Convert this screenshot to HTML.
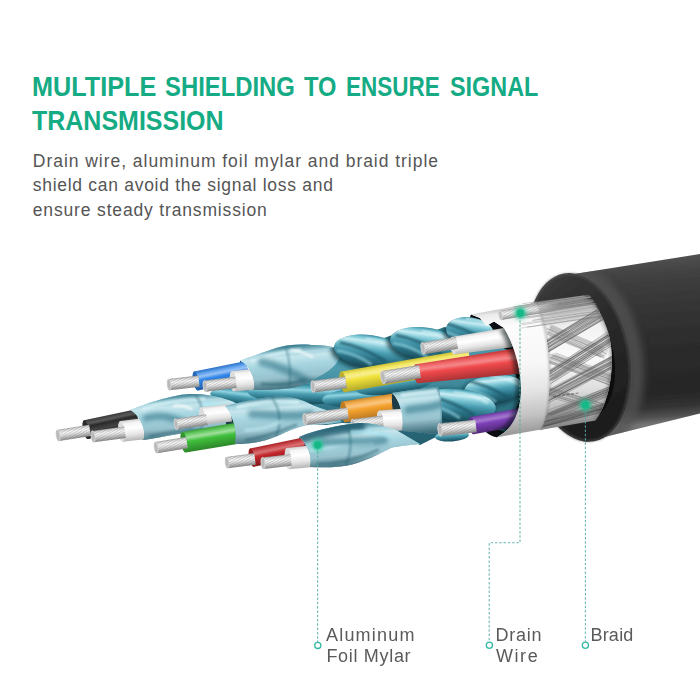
<!DOCTYPE html>
<html><head><meta charset="utf-8"><title>Multiple shielding</title>
<style>
html,body{margin:0;padding:0;background:#fff}
#page{position:relative;width:700px;height:700px;overflow:hidden;background:#fff;font-family:"Liberation Sans", sans-serif}
.tx{position:absolute;white-space:pre;line-height:1;transform-origin:0 0}
.t{font-weight:bold;color:#15ab84}
.b{color:#555}
.l{color:#5a5a5a}
svg{position:absolute;left:0;top:0}
</style></head><body>
<div id="page">
<svg width="700" height="700" viewBox="0 0 700 700">
<defs>
<pattern id="strand" width="2.2" height="40" patternUnits="userSpaceOnUse" patternTransform="rotate(68)"><rect width="0.9" height="40" fill="#666"/></pattern>
<filter id="soft" x="-5%" y="-5%" width="110%" height="110%"><feGaussianBlur stdDeviation="0.45"/></filter>
<filter id="b1" filterUnits="userSpaceOnUse" x="0" y="200" width="700" height="500"><feGaussianBlur stdDeviation="1"/></filter>
<filter id="b2" filterUnits="userSpaceOnUse" x="0" y="200" width="700" height="500"><feGaussianBlur stdDeviation="2"/></filter>
<filter id="b3" filterUnits="userSpaceOnUse" x="0" y="200" width="700" height="500"><feGaussianBlur stdDeviation="3.5"/></filter>
<linearGradient id="g1" gradientUnits="userSpaceOnUse" x1="640" y1="261" x2="652" y2="424"><stop offset="0" stop-color="#505050"/><stop offset="0.05" stop-color="#464646"/><stop offset="0.15" stop-color="#3c3c3c"/><stop offset="0.4" stop-color="#303030"/><stop offset="0.65" stop-color="#292929"/><stop offset="0.82" stop-color="#272727"/><stop offset="0.9" stop-color="#323232"/><stop offset="0.96" stop-color="#515151"/><stop offset="1" stop-color="#757575"/></linearGradient>
<clipPath id="cbody"><path d="M568,275 L700,254 L700,413.5 L586,441.5 L560,420 L560,300 Z"/></clipPath>
<linearGradient id="g2" gradientUnits="userSpaceOnUse" x1="545" y1="285" x2="610" y2="430"><stop offset="0" stop-color="#3a3a3a"/><stop offset="0.18" stop-color="#313131"/><stop offset="0.5" stop-color="#282828"/><stop offset="1" stop-color="#1b1b1b"/></linearGradient>
<linearGradient id="g3" gradientUnits="userSpaceOnUse" x1="560" y1="298" x2="572" y2="424"><stop offset="0" stop-color="#9f9f9f"/><stop offset="0.08" stop-color="#cfcfcf"/><stop offset="0.25" stop-color="#f3f3f3"/><stop offset="0.5" stop-color="#fbfbfb"/><stop offset="0.75" stop-color="#dcdcdc"/><stop offset="0.9" stop-color="#b3b3b3"/><stop offset="1" stop-color="#8a8a8a"/></linearGradient>
<clipPath id="cbraid"><path d="M531,303 L584,295.6 C601,306 612.5,335 612,360 C611.5,388 604.5,409 595.5,420.4 L540,430 C520,400 520,330 531,303 Z"/></clipPath>
<linearGradient id="g4" gradientUnits="userSpaceOnUse" x1="300" y1="330" x2="304" y2="465"><stop offset="0" stop-color="#3f8c9e"/><stop offset="0.3" stop-color="#4d9aac"/><stop offset="0.6" stop-color="#2f7486"/><stop offset="1" stop-color="#1f5563"/></linearGradient>
<clipPath id="c5"><path d="M254,388 L262,358 L280,352 L310,350 L333,347.5 L345,348 L370,343 L391,335.5 L400,339 L420,336 L444.5,327 L455,330 L470,326 L482,329 L490,342 L512,352 L520,400 L505,432 L470,420 L452,428 L436,437 L420,445 L396,432 L360,424 L342,423 L326,425 L310,424 L300,402 L270,397 L254,398 Z"/></clipPath>
<clipPath id="cteal"><path d="M254,388 L262,358 L280,352 L310,350 L333,347.5 L345,348 L370,343 L391,335.5 L400,339 L420,336 L444.5,327 L455,330 L470,326 L482,329 L490,342 L512,352 L520,400 L505,432 L470,420 L452,428 L436,437 L420,445 L396,432 L360,424 L342,423 L326,425 L310,424 L300,402 L270,397 L254,398 Z"/><ellipse cx="369.7" cy="351.5" rx="36" ry="16.5" transform="rotate(8 369.7 351.5)"/><ellipse cx="425.7" cy="344.1" rx="36" ry="16.5" transform="rotate(8 425.7 344.1)"/><ellipse cx="469.9" cy="331.3" rx="24" ry="14" transform="rotate(8 469.9 331.3)"/><ellipse cx="494" cy="389" rx="30" ry="14" transform="rotate(-6 494 389)"/><ellipse cx="458" cy="405" rx="38" ry="16" transform="rotate(6 458 405)"/></clipPath>
<linearGradient id="g6" x1="0" y1="0" x2="0" y2="1"><stop offset="0" stop-color="#2f7f93"/><stop offset="0.15" stop-color="#56aabd"/><stop offset="0.3" stop-color="#8fd3e0"/><stop offset="0.5" stop-color="#4a9db1"/><stop offset="0.8" stop-color="#256a7d"/><stop offset="1" stop-color="#184a58"/></linearGradient>
<linearGradient id="g7" x1="0" y1="0" x2="0" y2="1"><stop offset="0" stop-color="#2f7f93"/><stop offset="0.15" stop-color="#56aabd"/><stop offset="0.3" stop-color="#8fd3e0"/><stop offset="0.5" stop-color="#4a9db1"/><stop offset="0.8" stop-color="#256a7d"/><stop offset="1" stop-color="#184a58"/></linearGradient>
<linearGradient id="g8" x1="0" y1="0" x2="0" y2="1"><stop offset="0" stop-color="#2f7f93"/><stop offset="0.15" stop-color="#56aabd"/><stop offset="0.3" stop-color="#8fd3e0"/><stop offset="0.5" stop-color="#4a9db1"/><stop offset="0.8" stop-color="#256a7d"/><stop offset="1" stop-color="#184a58"/></linearGradient>
<linearGradient id="g9" x1="0" y1="0" x2="0" y2="1"><stop offset="0" stop-color="#2f7f93"/><stop offset="0.15" stop-color="#56aabd"/><stop offset="0.3" stop-color="#8fd3e0"/><stop offset="0.5" stop-color="#4a9db1"/><stop offset="0.8" stop-color="#256a7d"/><stop offset="1" stop-color="#184a58"/></linearGradient>
<linearGradient id="g10" gradientUnits="userSpaceOnUse" x1="220.1" y1="366.3" x2="223.9" y2="385.2"><stop offset="0" stop-color="#2871c6"/><stop offset="0.18" stop-color="#63a4ef"/><stop offset="0.32" stop-color="#97c2f4"/><stop offset="0.5" stop-color="#3086ea"/><stop offset="0.8" stop-color="#276dbf"/><stop offset="1" stop-color="#215da3"/></linearGradient>
<linearGradient id="g11" gradientUnits="userSpaceOnUse" x1="183.4" y1="377.3" x2="184.6" y2="388.5"><stop offset="0" stop-color="#a5a5a5"/><stop offset="0.12" stop-color="#dadada"/><stop offset="0.35" stop-color="#fbfbfb"/><stop offset="0.55" stop-color="#e4e4e4"/><stop offset="0.8" stop-color="#b4b4b4"/><stop offset="1" stop-color="#8a8a8a"/></linearGradient>
<linearGradient id="g12" gradientUnits="userSpaceOnUse" x1="244.5" y1="369.7" x2="246.5" y2="390.3"><stop offset="0" stop-color="#cfcfcf"/><stop offset="0.15" stop-color="#f4f4f4"/><stop offset="0.4" stop-color="#ffffff"/><stop offset="0.7" stop-color="#e6e6e6"/><stop offset="1" stop-color="#b5b5b5"/></linearGradient>
<linearGradient id="g13" gradientUnits="userSpaceOnUse" x1="219.8" y1="378.7" x2="221.2" y2="389.8"><stop offset="0" stop-color="#a5a5a5"/><stop offset="0.12" stop-color="#dadada"/><stop offset="0.35" stop-color="#fbfbfb"/><stop offset="0.55" stop-color="#e4e4e4"/><stop offset="0.8" stop-color="#b4b4b4"/><stop offset="1" stop-color="#8a8a8a"/></linearGradient>
<linearGradient id="g14" gradientUnits="userSpaceOnUse" x1="280" y1="346" x2="284" y2="391"><stop offset="0" stop-color="#35879c"/><stop offset="0.1" stop-color="#5ab6c9"/><stop offset="0.26" stop-color="#9cdce8"/><stop offset="0.42" stop-color="#62bdd0"/><stop offset="0.62" stop-color="#3f96ac"/><stop offset="0.84" stop-color="#2a7085"/><stop offset="1" stop-color="#1c5363"/></linearGradient>
<clipPath id="c15"><path d="M240,360.5 C262,353 272,349 280,347 C292,344.5 300,344 312,345 C322,345 330,346 336,348 C342,352 340,360 334,366 C328,372 322,375 318,377 C312,381 306,384 300,386 C292,389 270,390 253.5,390 C257,382 250,365 240,360.5 Z"/></clipPath>
<linearGradient id="g16" gradientUnits="userSpaceOnUse" x1="242" y1="0" x2="274" y2="-8"><stop offset="0" stop-color="#d3e6eb" stop-opacity="0.62"/><stop offset="0.4" stop-color="#bfe0e8" stop-opacity="0.3"/><stop offset="1" stop-color="#a8d6e1" stop-opacity="0"/></linearGradient>
<linearGradient id="g17" gradientUnits="userSpaceOnUse" x1="280" y1="346" x2="284" y2="391"><stop offset="0" stop-color="#1f6a7f" stop-opacity="0.85"/><stop offset="0.17" stop-color="#1f6a7f" stop-opacity="0"/><stop offset="0.25" stop-color="#fff" stop-opacity="0.12"/><stop offset="0.45" stop-color="#fff" stop-opacity="0"/><stop offset="0.7" stop-color="#134a5a" stop-opacity="0"/><stop offset="1" stop-color="#134a5a" stop-opacity="0.7"/></linearGradient>
<linearGradient id="g18" x1="0" y1="0" x2="0" y2="1"><stop offset="0" stop-color="#3a8ba0"/><stop offset="0.08" stop-color="#6fc0d0"/><stop offset="0.2" stop-color="#c8edf3"/><stop offset="0.34" stop-color="#7fc8d6"/><stop offset="0.5" stop-color="#4a9db1"/><stop offset="0.72" stop-color="#2b7286"/><stop offset="1" stop-color="#174957"/></linearGradient>
<clipPath id="c19"><ellipse cx="369.7" cy="351.5" rx="36" ry="16.5" transform="rotate(8 369.7 351.5)"/></clipPath>
<linearGradient id="g20" x1="0" y1="0" x2="0" y2="1"><stop offset="0" stop-color="#3a8ba0"/><stop offset="0.08" stop-color="#6fc0d0"/><stop offset="0.2" stop-color="#c8edf3"/><stop offset="0.34" stop-color="#7fc8d6"/><stop offset="0.5" stop-color="#4a9db1"/><stop offset="0.72" stop-color="#2b7286"/><stop offset="1" stop-color="#174957"/></linearGradient>
<clipPath id="c21"><ellipse cx="425.7" cy="344.1" rx="36" ry="16.5" transform="rotate(8 425.7 344.1)"/></clipPath>
<linearGradient id="g22" x1="0" y1="0" x2="0" y2="1"><stop offset="0" stop-color="#3a8ba0"/><stop offset="0.08" stop-color="#6fc0d0"/><stop offset="0.2" stop-color="#c8edf3"/><stop offset="0.34" stop-color="#7fc8d6"/><stop offset="0.5" stop-color="#4a9db1"/><stop offset="0.72" stop-color="#2b7286"/><stop offset="1" stop-color="#174957"/></linearGradient>
<clipPath id="c23"><ellipse cx="469.9" cy="331.3" rx="24" ry="14" transform="rotate(8 469.9 331.3)"/></clipPath>
<linearGradient id="g24" gradientUnits="userSpaceOnUse" x1="110" y1="414.8" x2="114" y2="433.4"><stop offset="0" stop-color="#3a3a3a"/><stop offset="0.2" stop-color="#5a5a5a"/><stop offset="0.35" stop-color="#2a2a2a"/><stop offset="0.6" stop-color="#444"/><stop offset="0.8" stop-color="#222"/><stop offset="1" stop-color="#111"/></linearGradient>
<linearGradient id="g25" gradientUnits="userSpaceOnUse" x1="73.1" y1="427.3" x2="74.9" y2="438.6"><stop offset="0" stop-color="#a5a5a5"/><stop offset="0.12" stop-color="#dadada"/><stop offset="0.35" stop-color="#fbfbfb"/><stop offset="0.55" stop-color="#e4e4e4"/><stop offset="0.8" stop-color="#b4b4b4"/><stop offset="1" stop-color="#8a8a8a"/></linearGradient>
<linearGradient id="g26" gradientUnits="userSpaceOnUse" x1="133.5" y1="419.4" x2="136" y2="440.2"><stop offset="0" stop-color="#cfcfcf"/><stop offset="0.15" stop-color="#f4f4f4"/><stop offset="0.4" stop-color="#ffffff"/><stop offset="0.7" stop-color="#e6e6e6"/><stop offset="1" stop-color="#b5b5b5"/></linearGradient>
<linearGradient id="g27" gradientUnits="userSpaceOnUse" x1="108.2" y1="428.7" x2="109.8" y2="440.1"><stop offset="0" stop-color="#a5a5a5"/><stop offset="0.12" stop-color="#dadada"/><stop offset="0.35" stop-color="#fbfbfb"/><stop offset="0.55" stop-color="#e4e4e4"/><stop offset="0.8" stop-color="#b4b4b4"/><stop offset="1" stop-color="#8a8a8a"/></linearGradient>
<linearGradient id="g28" gradientUnits="userSpaceOnUse" x1="180" y1="394" x2="184" y2="441"><stop offset="0" stop-color="#35879c"/><stop offset="0.1" stop-color="#5ab6c9"/><stop offset="0.26" stop-color="#9cdce8"/><stop offset="0.42" stop-color="#62bdd0"/><stop offset="0.62" stop-color="#3f96ac"/><stop offset="0.84" stop-color="#2a7085"/><stop offset="1" stop-color="#1c5363"/></linearGradient>
<clipPath id="c29"><path d="M130,410 C150,402 165,398 178,395.5 C190,393 205,393.5 222,398 C232,401 240,404 246,410 L236,436 C215,434 196,432 178,434 C166,436 154,438.5 143.5,440 C147,431 140,415 130,410 Z"/></clipPath>
<linearGradient id="g30" gradientUnits="userSpaceOnUse" x1="132" y1="0" x2="164" y2="-8"><stop offset="0" stop-color="#d3e6eb" stop-opacity="0.62"/><stop offset="0.4" stop-color="#bfe0e8" stop-opacity="0.3"/><stop offset="1" stop-color="#a8d6e1" stop-opacity="0"/></linearGradient>
<linearGradient id="g31" gradientUnits="userSpaceOnUse" x1="180" y1="394" x2="184" y2="441"><stop offset="0" stop-color="#1f6a7f" stop-opacity="0.85"/><stop offset="0.17" stop-color="#1f6a7f" stop-opacity="0"/><stop offset="0.25" stop-color="#fff" stop-opacity="0.12"/><stop offset="0.45" stop-color="#fff" stop-opacity="0"/><stop offset="0.7" stop-color="#134a5a" stop-opacity="0"/><stop offset="1" stop-color="#134a5a" stop-opacity="0.7"/></linearGradient>
<linearGradient id="g32" gradientUnits="userSpaceOnUse" x1="215.5" y1="405.5" x2="217.5" y2="423.1"><stop offset="0" stop-color="#cfcfcf"/><stop offset="0.15" stop-color="#f4f4f4"/><stop offset="0.4" stop-color="#ffffff"/><stop offset="0.7" stop-color="#e6e6e6"/><stop offset="1" stop-color="#b5b5b5"/></linearGradient>
<linearGradient id="g33" gradientUnits="userSpaceOnUse" x1="190.7" y1="416.6" x2="192.3" y2="427.2"><stop offset="0" stop-color="#a5a5a5"/><stop offset="0.12" stop-color="#dadada"/><stop offset="0.35" stop-color="#fbfbfb"/><stop offset="0.55" stop-color="#e4e4e4"/><stop offset="0.8" stop-color="#b4b4b4"/><stop offset="1" stop-color="#8a8a8a"/></linearGradient>
<linearGradient id="g34" gradientUnits="userSpaceOnUse" x1="210.3" y1="427.1" x2="213.7" y2="447.9"><stop offset="0" stop-color="#36a333"/><stop offset="0.18" stop-color="#6fcf6c"/><stop offset="0.32" stop-color="#9fdf9d"/><stop offset="0.5" stop-color="#40c03c"/><stop offset="0.8" stop-color="#349d31"/><stop offset="1" stop-color="#2c862a"/></linearGradient>
<linearGradient id="g35" gradientUnits="userSpaceOnUse" x1="170.6" y1="439.5" x2="172.4" y2="450.7"><stop offset="0" stop-color="#a5a5a5"/><stop offset="0.12" stop-color="#dadada"/><stop offset="0.35" stop-color="#fbfbfb"/><stop offset="0.55" stop-color="#e4e4e4"/><stop offset="0.8" stop-color="#b4b4b4"/><stop offset="1" stop-color="#8a8a8a"/></linearGradient>
<linearGradient id="g36" gradientUnits="userSpaceOnUse" x1="270" y1="396" x2="274" y2="445"><stop offset="0" stop-color="#35879c"/><stop offset="0.1" stop-color="#5ab6c9"/><stop offset="0.26" stop-color="#9cdce8"/><stop offset="0.42" stop-color="#62bdd0"/><stop offset="0.62" stop-color="#3f96ac"/><stop offset="0.84" stop-color="#2a7085"/><stop offset="1" stop-color="#1c5363"/></linearGradient>
<clipPath id="c37"><path d="M225,406 C245,401 258,398.5 272,397 C284,396 296,397 306,402 C316,407 324,410 332,411 L342,422 C334,423 326,425 318,424 C306,424 296,428 286,432 C278,436 268,440 258,442 C250,443.5 242,444 235,444 C238,432 233,414 225,406 Z"/></clipPath>
<linearGradient id="g38" gradientUnits="userSpaceOnUse" x1="227" y1="0" x2="260" y2="-8"><stop offset="0" stop-color="#d3e6eb" stop-opacity="0.62"/><stop offset="0.4" stop-color="#bfe0e8" stop-opacity="0.3"/><stop offset="1" stop-color="#a8d6e1" stop-opacity="0"/></linearGradient>
<linearGradient id="g39" gradientUnits="userSpaceOnUse" x1="270" y1="396" x2="274" y2="445"><stop offset="0" stop-color="#1f6a7f" stop-opacity="0.85"/><stop offset="0.17" stop-color="#1f6a7f" stop-opacity="0"/><stop offset="0.25" stop-color="#fff" stop-opacity="0.12"/><stop offset="0.45" stop-color="#fff" stop-opacity="0"/><stop offset="0.7" stop-color="#134a5a" stop-opacity="0"/><stop offset="1" stop-color="#134a5a" stop-opacity="0.7"/></linearGradient>
<linearGradient id="g40" gradientUnits="userSpaceOnUse" x1="404.7" y1="360.3" x2="408.3" y2="381.1"><stop offset="0" stop-color="#ccc031"/><stop offset="0.18" stop-color="#f4e866"/><stop offset="0.32" stop-color="#f7ef92"/><stop offset="0.5" stop-color="#f1e23a"/><stop offset="0.8" stop-color="#ccc031"/><stop offset="1" stop-color="#b4a92b"/></linearGradient>
<linearGradient id="g41" gradientUnits="userSpaceOnUse" x1="328.8" y1="378.7" x2="330.2" y2="390.3"><stop offset="0" stop-color="#a5a5a5"/><stop offset="0.12" stop-color="#dadada"/><stop offset="0.35" stop-color="#fbfbfb"/><stop offset="0.55" stop-color="#e4e4e4"/><stop offset="0.8" stop-color="#b4b4b4"/><stop offset="1" stop-color="#8a8a8a"/></linearGradient>
<linearGradient id="g42" gradientUnits="userSpaceOnUse" x1="369.4" y1="397.3" x2="372.6" y2="418.1"><stop offset="0" stop-color="#d08827"/><stop offset="0.18" stop-color="#f7b357"/><stop offset="0.32" stop-color="#f9c681"/><stop offset="0.5" stop-color="#f5a12e"/><stop offset="0.8" stop-color="#d08827"/><stop offset="1" stop-color="#b77822"/></linearGradient>
<linearGradient id="g43" gradientUnits="userSpaceOnUse" x1="325.7" y1="410.5" x2="327.3" y2="421.9"><stop offset="0" stop-color="#a5a5a5"/><stop offset="0.12" stop-color="#dadada"/><stop offset="0.35" stop-color="#fbfbfb"/><stop offset="0.55" stop-color="#e4e4e4"/><stop offset="0.8" stop-color="#b4b4b4"/><stop offset="1" stop-color="#8a8a8a"/></linearGradient>
<linearGradient id="g44" gradientUnits="userSpaceOnUse" x1="392.3" y1="409.6" x2="393.7" y2="431"><stop offset="0" stop-color="#cfcfcf"/><stop offset="0.15" stop-color="#f4f4f4"/><stop offset="0.4" stop-color="#ffffff"/><stop offset="0.7" stop-color="#e6e6e6"/><stop offset="1" stop-color="#b5b5b5"/></linearGradient>
<linearGradient id="g45" gradientUnits="userSpaceOnUse" x1="367.3" y1="417.4" x2="368.7" y2="429.4"><stop offset="0" stop-color="#a5a5a5"/><stop offset="0.12" stop-color="#dadada"/><stop offset="0.35" stop-color="#fbfbfb"/><stop offset="0.55" stop-color="#e4e4e4"/><stop offset="0.8" stop-color="#b4b4b4"/><stop offset="1" stop-color="#8a8a8a"/></linearGradient>
<linearGradient id="g46" x1="0" y1="0" x2="0" y2="1"><stop offset="0" stop-color="#3a8ba0"/><stop offset="0.08" stop-color="#6fc0d0"/><stop offset="0.2" stop-color="#c8edf3"/><stop offset="0.34" stop-color="#7fc8d6"/><stop offset="0.5" stop-color="#4a9db1"/><stop offset="0.72" stop-color="#2b7286"/><stop offset="1" stop-color="#174957"/></linearGradient>
<clipPath id="c47"><ellipse cx="494" cy="389" rx="30" ry="14" transform="rotate(-6 494 389)"/></clipPath>
<linearGradient id="g48" x1="0" y1="0" x2="0" y2="1"><stop offset="0" stop-color="#3a8ba0"/><stop offset="0.08" stop-color="#6fc0d0"/><stop offset="0.2" stop-color="#c8edf3"/><stop offset="0.34" stop-color="#7fc8d6"/><stop offset="0.5" stop-color="#4a9db1"/><stop offset="0.72" stop-color="#2b7286"/><stop offset="1" stop-color="#174957"/></linearGradient>
<clipPath id="c49"><ellipse cx="458" cy="405" rx="38" ry="16" transform="rotate(6 458 405)"/></clipPath>
<linearGradient id="g50" gradientUnits="userSpaceOnUse" x1="420" y1="386" x2="424" y2="434"><stop offset="0" stop-color="#35879c"/><stop offset="0.1" stop-color="#5ab6c9"/><stop offset="0.26" stop-color="#9cdce8"/><stop offset="0.42" stop-color="#62bdd0"/><stop offset="0.62" stop-color="#3f96ac"/><stop offset="0.84" stop-color="#2a7085"/><stop offset="1" stop-color="#1c5363"/></linearGradient>
<clipPath id="c51"><path d="M392,393 C404,391 416,389.5 428,388 C432,387.5 435,387 438,386.5 C442,398 443,418 441,433 C430,434.5 418,432 402,431 C405,418 400,400 392,393 Z"/></clipPath>
<linearGradient id="g52" gradientUnits="userSpaceOnUse" x1="394" y1="0" x2="432" y2="-8"><stop offset="0" stop-color="#d3e6eb" stop-opacity="0.62"/><stop offset="0.4" stop-color="#bfe0e8" stop-opacity="0.3"/><stop offset="1" stop-color="#a8d6e1" stop-opacity="0"/></linearGradient>
<linearGradient id="g53" gradientUnits="userSpaceOnUse" x1="420" y1="386" x2="424" y2="434"><stop offset="0" stop-color="#1f6a7f" stop-opacity="0.85"/><stop offset="0.17" stop-color="#1f6a7f" stop-opacity="0"/><stop offset="0.25" stop-color="#fff" stop-opacity="0.12"/><stop offset="0.45" stop-color="#fff" stop-opacity="0"/><stop offset="0.7" stop-color="#134a5a" stop-opacity="0"/><stop offset="1" stop-color="#134a5a" stop-opacity="0.7"/></linearGradient>
<linearGradient id="g54" gradientUnits="userSpaceOnUse" x1="276.6" y1="442.9" x2="280.4" y2="461.3"><stop offset="0" stop-color="#a52125"/><stop offset="0.18" stop-color="#cd4c50"/><stop offset="0.32" stop-color="#d87275"/><stop offset="0.5" stop-color="#c3272c"/><stop offset="0.8" stop-color="#9a1e22"/><stop offset="1" stop-color="#7e191c"/></linearGradient>
<linearGradient id="g55" gradientUnits="userSpaceOnUse" x1="240.3" y1="455.1" x2="241.7" y2="466.5"><stop offset="0" stop-color="#a5a5a5"/><stop offset="0.12" stop-color="#dadada"/><stop offset="0.35" stop-color="#fbfbfb"/><stop offset="0.55" stop-color="#e4e4e4"/><stop offset="0.8" stop-color="#b4b4b4"/><stop offset="1" stop-color="#8a8a8a"/></linearGradient>
<linearGradient id="g56" gradientUnits="userSpaceOnUse" x1="300.4" y1="446.4" x2="302.6" y2="468"><stop offset="0" stop-color="#cfcfcf"/><stop offset="0.15" stop-color="#f4f4f4"/><stop offset="0.4" stop-color="#ffffff"/><stop offset="0.7" stop-color="#e6e6e6"/><stop offset="1" stop-color="#b5b5b5"/></linearGradient>
<linearGradient id="g57" gradientUnits="userSpaceOnUse" x1="276.3" y1="455.8" x2="277.7" y2="467.4"><stop offset="0" stop-color="#a5a5a5"/><stop offset="0.12" stop-color="#dadada"/><stop offset="0.35" stop-color="#fbfbfb"/><stop offset="0.55" stop-color="#e4e4e4"/><stop offset="0.8" stop-color="#b4b4b4"/><stop offset="1" stop-color="#8a8a8a"/></linearGradient>
<linearGradient id="g58" gradientUnits="userSpaceOnUse" x1="350" y1="423" x2="354" y2="468"><stop offset="0" stop-color="#35879c"/><stop offset="0.1" stop-color="#5ab6c9"/><stop offset="0.26" stop-color="#9cdce8"/><stop offset="0.42" stop-color="#62bdd0"/><stop offset="0.62" stop-color="#3f96ac"/><stop offset="0.84" stop-color="#2a7085"/><stop offset="1" stop-color="#1c5363"/></linearGradient>
<clipPath id="c59"><path d="M299,437 C308,433 316,431 324,429 C336,426 348,424 360,423 C372,423 384,426 396,430 L420,444 C410,445 400,446 392,447.5 C382,452 374,457 364,460.5 C356,463.5 348,466 340,466.5 C330,467.5 320,467.5 310,467 C313,457 307,443 299,437 Z"/></clipPath>
<linearGradient id="g60" gradientUnits="userSpaceOnUse" x1="301" y1="0" x2="330" y2="-8"><stop offset="0" stop-color="#d3e6eb" stop-opacity="0.62"/><stop offset="0.4" stop-color="#bfe0e8" stop-opacity="0.3"/><stop offset="1" stop-color="#a8d6e1" stop-opacity="0"/></linearGradient>
<linearGradient id="g61" gradientUnits="userSpaceOnUse" x1="350" y1="423" x2="354" y2="468"><stop offset="0" stop-color="#1f6a7f" stop-opacity="0.85"/><stop offset="0.17" stop-color="#1f6a7f" stop-opacity="0"/><stop offset="0.25" stop-color="#fff" stop-opacity="0.12"/><stop offset="0.45" stop-color="#fff" stop-opacity="0"/><stop offset="0.7" stop-color="#134a5a" stop-opacity="0"/><stop offset="1" stop-color="#134a5a" stop-opacity="0.7"/></linearGradient>
<linearGradient id="g62" x1="0" y1="0" x2="0" y2="1"><stop offset="0" stop-color="#2f7f93"/><stop offset="0.15" stop-color="#56aabd"/><stop offset="0.3" stop-color="#8fd3e0"/><stop offset="0.5" stop-color="#4a9db1"/><stop offset="0.8" stop-color="#256a7d"/><stop offset="1" stop-color="#184a58"/></linearGradient>
<linearGradient id="g63" gradientUnits="userSpaceOnUse" x1="496.5" y1="412.3" x2="499.5" y2="429.7"><stop offset="0" stop-color="#6a369c"/><stop offset="0.18" stop-color="#905cc2"/><stop offset="0.32" stop-color="#a479cd"/><stop offset="0.5" stop-color="#7d40b8"/><stop offset="0.8" stop-color="#623291"/><stop offset="1" stop-color="#512977"/></linearGradient>
<linearGradient id="g64" gradientUnits="userSpaceOnUse" x1="457.3" y1="421.6" x2="458.7" y2="434.2"><stop offset="0" stop-color="#a5a5a5"/><stop offset="0.12" stop-color="#dadada"/><stop offset="0.35" stop-color="#fbfbfb"/><stop offset="0.55" stop-color="#e4e4e4"/><stop offset="0.8" stop-color="#b4b4b4"/><stop offset="1" stop-color="#8a8a8a"/></linearGradient>
<linearGradient id="g65" gradientUnits="userSpaceOnUse" x1="482.1" y1="331.8" x2="484.9" y2="350.6"><stop offset="0" stop-color="#cfcfcf"/><stop offset="0.15" stop-color="#f4f4f4"/><stop offset="0.4" stop-color="#ffffff"/><stop offset="0.7" stop-color="#e6e6e6"/><stop offset="1" stop-color="#b5b5b5"/></linearGradient>
<linearGradient id="g66" gradientUnits="userSpaceOnUse" x1="439" y1="339.7" x2="441" y2="351.5"><stop offset="0" stop-color="#a5a5a5"/><stop offset="0.12" stop-color="#dadada"/><stop offset="0.35" stop-color="#fbfbfb"/><stop offset="0.55" stop-color="#e4e4e4"/><stop offset="0.8" stop-color="#b4b4b4"/><stop offset="1" stop-color="#8a8a8a"/></linearGradient>
<linearGradient id="g67" gradientUnits="userSpaceOnUse" x1="467.6" y1="356" x2="470.4" y2="378.4"><stop offset="0" stop-color="#cc3d3f"/><stop offset="0.18" stop-color="#f2686a"/><stop offset="0.32" stop-color="#f5888a"/><stop offset="0.5" stop-color="#f0484b"/><stop offset="0.8" stop-color="#c43b3d"/><stop offset="1" stop-color="#a83234"/></linearGradient>
<linearGradient id="g68" gradientUnits="userSpaceOnUse" x1="400.5" y1="368" x2="402.5" y2="381"><stop offset="0" stop-color="#a5a5a5"/><stop offset="0.12" stop-color="#dadada"/><stop offset="0.35" stop-color="#fbfbfb"/><stop offset="0.55" stop-color="#e4e4e4"/><stop offset="0.8" stop-color="#b4b4b4"/><stop offset="1" stop-color="#8a8a8a"/></linearGradient>
<clipPath id="copen"><path d="M471,314.5 L480,318 L486,326 L494,321.5 L504,328 C513,342 520,365 521,386 C521.5,408 515,428 497,437.2 C483,436 470,415 466,380 C463,350 466,325 471,314.5 Z"/></clipPath>
<linearGradient id="g69" gradientUnits="userSpaceOnUse" x1="505" y1="308" x2="520" y2="436"><stop offset="0" stop-color="#c4c4c4"/><stop offset="0.04" stop-color="#ececec"/><stop offset="0.14" stop-color="#fcfcfc"/><stop offset="0.45" stop-color="#f7f7f7"/><stop offset="0.65" stop-color="#e6e6e6"/><stop offset="0.85" stop-color="#c2c2c2"/><stop offset="1" stop-color="#949494"/></linearGradient>
<clipPath id="cfray"><path d="M505,290 L584,290 C600,304 610,330 610,352 L505,352 Z"/></clipPath>
<linearGradient id="dfade" gradientUnits="userSpaceOnUse" x1="500" y1="0" x2="560" y2="0"><stop offset="0" stop-color="#fff"/><stop offset="0.45" stop-color="#fff"/><stop offset="1" stop-color="#000"/></linearGradient>
<mask id="dmask" maskUnits="userSpaceOnUse" x="480" y="290" width="100" height="40"><rect x="480" y="290" width="100" height="40" fill="url(#dfade)"/></mask>
<linearGradient id="g70" gradientUnits="userSpaceOnUse" x1="529.5" y1="306" x2="531" y2="315"><stop offset="0" stop-color="#a5a5a5"/><stop offset="0.12" stop-color="#dadada"/><stop offset="0.35" stop-color="#fbfbfb"/><stop offset="0.55" stop-color="#e4e4e4"/><stop offset="0.8" stop-color="#b4b4b4"/><stop offset="1" stop-color="#8a8a8a"/></linearGradient>
</defs>
<g filter="url(#soft)">
<path d="M568,275 L700,254 L700,413.5 L586,441.5 L560,420 L560,300 Z" fill="url(#g1)"/>
<g clip-path="url(#cbody)"><ellipse cx="584" cy="358.1" rx="50.6" ry="85.2" transform="rotate(-10.2 584 358.1)" fill="none" stroke="#545454" stroke-width="16" opacity="0.75" filter="url(#b3)"/></g>
<ellipse cx="579" cy="358" rx="50.6" ry="85.2" transform="rotate(-10.2 575.6 358.1)" fill="url(#g2)"/>
<ellipse cx="579" cy="358" rx="49.6" ry="84.2" transform="rotate(-10.2 575.6 358.1)" fill="none" stroke="#5c5c5c" stroke-width="1.6" opacity="0.8" filter="url(#b1)"/>
<ellipse cx="575.2" cy="360" rx="39" ry="62.5" transform="rotate(-10.2 575.2 360)" fill="#0e0e0e"/>
<path d="M531,303 L584,295.6 C601,306 612.5,335 612,360 C611.5,388 604.5,409 595.5,420.4 L540,430 C520,400 520,330 531,303 Z" fill="url(#g3)"/>
<g clip-path="url(#cbraid)">
<polygon points="547,334.6 604.1,359.2 608.1,350 551,325.4" fill="#c9c9c9" opacity="0.55"/>
<line x1="551.4" y1="325.1" x2="604.3" y2="347.5" stroke="#4d4d4d" stroke-width="0.55" opacity="0.5"/>
<line x1="550" y1="325.7" x2="603.8" y2="348.1" stroke="#707070" stroke-width="0.55" opacity="0.5"/>
<line x1="549.8" y1="326.9" x2="603.3" y2="349.5" stroke="#4d4d4d" stroke-width="0.55" opacity="0.5"/>
<line x1="549.2" y1="329.1" x2="602.6" y2="351.3" stroke="#707070" stroke-width="0.55" opacity="0.5"/>
<line x1="549.4" y1="327.9" x2="603" y2="351.5" stroke="#707070" stroke-width="0.55" opacity="0.5"/>
<line x1="547.3" y1="328.3" x2="606.9" y2="354" stroke="#5a5a5a" stroke-width="0.55" opacity="0.5"/>
<line x1="546.1" y1="328.8" x2="601.7" y2="354" stroke="#4d4d4d" stroke-width="0.55" opacity="0.5"/>
<line x1="547.4" y1="331.6" x2="603.9" y2="356.2" stroke="#383838" stroke-width="0.55" opacity="0.5"/>
<line x1="546.2" y1="332" x2="601.5" y2="357" stroke="#5a5a5a" stroke-width="0.55" opacity="0.5"/>
<line x1="547" y1="334" x2="603.4" y2="357.2" stroke="#383838" stroke-width="0.55" opacity="0.5"/>
<line x1="549.2" y1="336.1" x2="600.5" y2="357.1" stroke="#707070" stroke-width="0.55" opacity="0.5"/>
<polygon points="549.1,363.2 616.3,387.8 620.1,377.5 552.9,352.8" fill="#c4c4c4" opacity="0.55"/>
<line x1="555.6" y1="353" x2="617.9" y2="376.3" stroke="#4d4d4d" stroke-width="0.55" opacity="0.55"/>
<line x1="554.4" y1="355.1" x2="616.5" y2="377.4" stroke="#383838" stroke-width="0.55" opacity="0.55"/>
<line x1="550.9" y1="354.5" x2="620" y2="379.8" stroke="#383838" stroke-width="0.55" opacity="0.55"/>
<line x1="547.6" y1="354" x2="618.6" y2="380.5" stroke="#707070" stroke-width="0.55" opacity="0.55"/>
<line x1="552.1" y1="356.3" x2="613.6" y2="379.1" stroke="#707070" stroke-width="0.55" opacity="0.55"/>
<line x1="550.3" y1="356.9" x2="614.5" y2="381" stroke="#383838" stroke-width="0.55" opacity="0.55"/>
<line x1="549.4" y1="357" x2="619.1" y2="382.9" stroke="#4d4d4d" stroke-width="0.55" opacity="0.55"/>
<line x1="548.1" y1="357.7" x2="613.4" y2="382.2" stroke="#707070" stroke-width="0.55" opacity="0.55"/>
<line x1="548.3" y1="360.6" x2="614.7" y2="383.5" stroke="#707070" stroke-width="0.55" opacity="0.55"/>
<line x1="546" y1="361.1" x2="613.6" y2="383.8" stroke="#5a5a5a" stroke-width="0.55" opacity="0.55"/>
<line x1="546.5" y1="359.9" x2="613" y2="386.4" stroke="#5a5a5a" stroke-width="0.55" opacity="0.55"/>
<line x1="548.8" y1="362.8" x2="617.9" y2="388" stroke="#4d4d4d" stroke-width="0.55" opacity="0.55"/>
<polygon points="547.7,396.3 609.3,414.2 611.9,405.6 550.3,387.7" fill="#bdbdbd" opacity="0.55"/>
<line x1="552.7" y1="388.3" x2="611.2" y2="406.3" stroke="#707070" stroke-width="0.55" opacity="0.5"/>
<line x1="549.1" y1="388.1" x2="609.3" y2="405.6" stroke="#5a5a5a" stroke-width="0.55" opacity="0.5"/>
<line x1="546.7" y1="387.7" x2="608.8" y2="406.1" stroke="#4d4d4d" stroke-width="0.55" opacity="0.5"/>
<line x1="549.1" y1="389.5" x2="612.3" y2="409" stroke="#4d4d4d" stroke-width="0.55" opacity="0.5"/>
<line x1="547.7" y1="390" x2="610.2" y2="408.5" stroke="#383838" stroke-width="0.55" opacity="0.5"/>
<line x1="545.2" y1="391.7" x2="608.7" y2="409.8" stroke="#707070" stroke-width="0.55" opacity="0.5"/>
<line x1="545.2" y1="392.4" x2="610.3" y2="410.9" stroke="#383838" stroke-width="0.55" opacity="0.5"/>
<line x1="547.6" y1="394.1" x2="606.2" y2="411.7" stroke="#383838" stroke-width="0.55" opacity="0.5"/>
<line x1="544.1" y1="393.3" x2="608.1" y2="413" stroke="#4d4d4d" stroke-width="0.55" opacity="0.5"/>
<line x1="545.8" y1="396.3" x2="605.7" y2="412.6" stroke="#5a5a5a" stroke-width="0.55" opacity="0.5"/>
<polygon points="546.1,354.1 608.8,316 602.6,305.8 539.9,343.9" fill="#b5b5b5" opacity="0.55"/>
<line x1="537.8" y1="345.2" x2="599.4" y2="308.5" stroke="#5a5a5a" stroke-width="0.55" opacity="0.8"/>
<line x1="541.6" y1="344.7" x2="599.9" y2="309.3" stroke="#707070" stroke-width="0.55" opacity="0.8"/>
<line x1="536.3" y1="347.6" x2="599.7" y2="308.2" stroke="#383838" stroke-width="0.55" opacity="0.8"/>
<line x1="538.9" y1="346.6" x2="604.5" y2="308" stroke="#383838" stroke-width="0.55" opacity="0.8"/>
<line x1="539.4" y1="349.5" x2="600.7" y2="310.6" stroke="#5a5a5a" stroke-width="0.55" opacity="0.8"/>
<line x1="544.6" y1="345.6" x2="603.9" y2="310" stroke="#4d4d4d" stroke-width="0.55" opacity="0.8"/>
<line x1="543.9" y1="347.4" x2="601" y2="313.2" stroke="#4d4d4d" stroke-width="0.55" opacity="0.8"/>
<line x1="544.5" y1="349.2" x2="604.2" y2="312.6" stroke="#5a5a5a" stroke-width="0.55" opacity="0.8"/>
<line x1="539.5" y1="351.9" x2="607.7" y2="311.1" stroke="#707070" stroke-width="0.55" opacity="0.8"/>
<line x1="540" y1="352.7" x2="602.9" y2="315.3" stroke="#5a5a5a" stroke-width="0.55" opacity="0.8"/>
<line x1="542.7" y1="350.9" x2="606.5" y2="313.7" stroke="#707070" stroke-width="0.55" opacity="0.8"/>
<line x1="544.5" y1="352.5" x2="603.2" y2="316.1" stroke="#4d4d4d" stroke-width="0.55" opacity="0.8"/>
<line x1="541.9" y1="355.5" x2="608.2" y2="315" stroke="#5a5a5a" stroke-width="0.55" opacity="0.8"/>
<line x1="547.1" y1="352.3" x2="605.2" y2="318.3" stroke="#383838" stroke-width="0.55" opacity="0.8"/>
<line x1="546.8" y1="352.9" x2="606" y2="317.8" stroke="#707070" stroke-width="0.55" opacity="0.8"/>
<polygon points="552.2,382.1 622.8,337.3 616.3,327.1 545.8,371.9" fill="#b0b0b0" opacity="0.55"/>
<line x1="547.2" y1="372" x2="616.9" y2="325.5" stroke="#707070" stroke-width="0.55" opacity="0.8"/>
<line x1="542.7" y1="375.8" x2="612.8" y2="331.5" stroke="#4d4d4d" stroke-width="0.55" opacity="0.8"/>
<line x1="547.1" y1="374.2" x2="617.8" y2="329" stroke="#5a5a5a" stroke-width="0.55" opacity="0.8"/>
<line x1="547.6" y1="372.9" x2="616.2" y2="330.2" stroke="#383838" stroke-width="0.55" opacity="0.8"/>
<line x1="546.8" y1="375.9" x2="618.4" y2="330" stroke="#4d4d4d" stroke-width="0.55" opacity="0.8"/>
<line x1="549" y1="374.2" x2="616.5" y2="331.5" stroke="#4d4d4d" stroke-width="0.55" opacity="0.8"/>
<line x1="547.5" y1="377.7" x2="618.6" y2="333" stroke="#5a5a5a" stroke-width="0.55" opacity="0.8"/>
<line x1="548.6" y1="377.8" x2="617.4" y2="333.4" stroke="#5a5a5a" stroke-width="0.55" opacity="0.8"/>
<line x1="552.4" y1="376.4" x2="616.8" y2="336" stroke="#5a5a5a" stroke-width="0.55" opacity="0.8"/>
<line x1="546.3" y1="381.7" x2="617.7" y2="334.4" stroke="#4d4d4d" stroke-width="0.55" opacity="0.8"/>
<line x1="547.3" y1="381.6" x2="617.5" y2="336.4" stroke="#4d4d4d" stroke-width="0.55" opacity="0.8"/>
<line x1="552.2" y1="380.2" x2="620.3" y2="334.8" stroke="#5a5a5a" stroke-width="0.55" opacity="0.8"/>
<line x1="549.8" y1="380.9" x2="621.4" y2="335.1" stroke="#4d4d4d" stroke-width="0.55" opacity="0.8"/>
<line x1="554.7" y1="379.2" x2="622.9" y2="336.1" stroke="#5a5a5a" stroke-width="0.55" opacity="0.8"/>
<line x1="550.7" y1="383.6" x2="620.9" y2="339.8" stroke="#383838" stroke-width="0.55" opacity="0.8"/>
<polygon points="551.6,400.8 622.2,362.8 616.9,353.1 546.4,391.2" fill="#adadad" opacity="0.55"/>
<line x1="541.3" y1="393.4" x2="615.7" y2="354.3" stroke="#707070" stroke-width="0.55" opacity="0.8"/>
<line x1="546.2" y1="392.8" x2="613.8" y2="355.4" stroke="#4d4d4d" stroke-width="0.55" opacity="0.8"/>
<line x1="543.6" y1="393.5" x2="619.2" y2="354.9" stroke="#4d4d4d" stroke-width="0.55" opacity="0.8"/>
<line x1="548.7" y1="392.2" x2="614" y2="356.3" stroke="#5a5a5a" stroke-width="0.55" opacity="0.8"/>
<line x1="548.9" y1="394.5" x2="620.4" y2="356" stroke="#707070" stroke-width="0.55" opacity="0.8"/>
<line x1="547.6" y1="394.3" x2="619.1" y2="357.9" stroke="#4d4d4d" stroke-width="0.55" opacity="0.8"/>
<line x1="545" y1="397.1" x2="620.8" y2="357.6" stroke="#383838" stroke-width="0.55" opacity="0.8"/>
<line x1="551.2" y1="396.5" x2="614.9" y2="361.3" stroke="#5a5a5a" stroke-width="0.55" opacity="0.8"/>
<line x1="547.8" y1="396.9" x2="617.5" y2="361.5" stroke="#707070" stroke-width="0.55" opacity="0.8"/>
<line x1="546.5" y1="400.9" x2="618.6" y2="360.2" stroke="#5a5a5a" stroke-width="0.55" opacity="0.8"/>
<line x1="548" y1="401.1" x2="617.2" y2="363.8" stroke="#383838" stroke-width="0.55" opacity="0.8"/>
<line x1="547.6" y1="401.4" x2="619.1" y2="362.6" stroke="#5a5a5a" stroke-width="0.55" opacity="0.8"/>
<line x1="554.1" y1="397.9" x2="616.7" y2="365.6" stroke="#4d4d4d" stroke-width="0.55" opacity="0.8"/>
<line x1="548.4" y1="403.2" x2="620.1" y2="364" stroke="#707070" stroke-width="0.55" opacity="0.8"/>
<polygon points="549.7,420.2 615.8,393.3 612.4,385 546.3,411.8" fill="#a8a8a8" opacity="0.55"/>
<line x1="544.5" y1="411.5" x2="610.9" y2="386.4" stroke="#707070" stroke-width="0.55" opacity="0.7"/>
<line x1="544" y1="414.9" x2="608.8" y2="386.8" stroke="#5a5a5a" stroke-width="0.55" opacity="0.7"/>
<line x1="547.4" y1="414" x2="610.7" y2="387.9" stroke="#383838" stroke-width="0.55" opacity="0.7"/>
<line x1="543.1" y1="417.1" x2="612.7" y2="388.3" stroke="#383838" stroke-width="0.55" opacity="0.7"/>
<line x1="547.9" y1="414.6" x2="610.6" y2="388.1" stroke="#383838" stroke-width="0.55" opacity="0.7"/>
<line x1="543.6" y1="417.6" x2="610.1" y2="390.8" stroke="#383838" stroke-width="0.55" opacity="0.7"/>
<line x1="550.8" y1="415.2" x2="615.6" y2="388.3" stroke="#383838" stroke-width="0.55" opacity="0.7"/>
<line x1="545.9" y1="417.5" x2="612.2" y2="392.4" stroke="#4d4d4d" stroke-width="0.55" opacity="0.7"/>
<line x1="546" y1="418.6" x2="613.8" y2="390.4" stroke="#5a5a5a" stroke-width="0.55" opacity="0.7"/>
<line x1="546.4" y1="419.8" x2="610" y2="392.6" stroke="#707070" stroke-width="0.55" opacity="0.7"/>
<line x1="547" y1="420.6" x2="614.5" y2="392.6" stroke="#4d4d4d" stroke-width="0.55" opacity="0.7"/>
<line x1="550.8" y1="419.9" x2="615.1" y2="393.6" stroke="#707070" stroke-width="0.55" opacity="0.7"/>
<polygon points="529.6,313 606.9,302.3 605.7,293.4 528.4,304" fill="#bdbdbd" opacity="0.55"/>
<line x1="527.4" y1="304.8" x2="601.9" y2="294.5" stroke="#5a5a5a" stroke-width="0.55" opacity="0.7"/>
<line x1="530.8" y1="303.3" x2="604.9" y2="295" stroke="#5a5a5a" stroke-width="0.55" opacity="0.7"/>
<line x1="528.3" y1="306.4" x2="606.5" y2="295.3" stroke="#4d4d4d" stroke-width="0.55" opacity="0.7"/>
<line x1="531.3" y1="306.5" x2="605.4" y2="295.7" stroke="#5a5a5a" stroke-width="0.55" opacity="0.7"/>
<line x1="528.8" y1="305.8" x2="607.6" y2="294.8" stroke="#707070" stroke-width="0.55" opacity="0.7"/>
<line x1="529.1" y1="308.3" x2="605.1" y2="297.1" stroke="#5a5a5a" stroke-width="0.55" opacity="0.7"/>
<line x1="530.6" y1="307.9" x2="606.1" y2="296.3" stroke="#4d4d4d" stroke-width="0.55" opacity="0.7"/>
<line x1="530.2" y1="309.1" x2="602.1" y2="297.7" stroke="#4d4d4d" stroke-width="0.55" opacity="0.7"/>
<line x1="530.5" y1="310.2" x2="602" y2="298.9" stroke="#707070" stroke-width="0.55" opacity="0.7"/>
<line x1="528" y1="310.4" x2="605.9" y2="299.4" stroke="#4d4d4d" stroke-width="0.55" opacity="0.7"/>
<line x1="524.5" y1="311.8" x2="601.7" y2="301.3" stroke="#383838" stroke-width="0.55" opacity="0.7"/>
<line x1="529.5" y1="311.9" x2="601.7" y2="302.1" stroke="#707070" stroke-width="0.55" opacity="0.7"/>
<line x1="529.9" y1="311.2" x2="606.2" y2="301.1" stroke="#707070" stroke-width="0.55" opacity="0.7"/>
<line x1="528.2" y1="312.6" x2="604.6" y2="302.7" stroke="#4d4d4d" stroke-width="0.55" opacity="0.7"/>
<polygon points="542,427.9 614.8,408.8 612.8,401.1 540,420.1" fill="#8e8e8e" opacity="0.55"/>
<line x1="537.7" y1="421.9" x2="607.6" y2="402.6" stroke="#707070" stroke-width="0.55" opacity="0.75"/>
<line x1="541.6" y1="419.3" x2="614.6" y2="401.3" stroke="#707070" stroke-width="0.55" opacity="0.75"/>
<line x1="543.2" y1="422" x2="614.5" y2="401.9" stroke="#4d4d4d" stroke-width="0.55" opacity="0.75"/>
<line x1="539.8" y1="422.6" x2="614.7" y2="402" stroke="#5a5a5a" stroke-width="0.55" opacity="0.75"/>
<line x1="537.9" y1="423.9" x2="608.6" y2="405.5" stroke="#383838" stroke-width="0.55" opacity="0.75"/>
<line x1="539.7" y1="423.3" x2="608.3" y2="407" stroke="#4d4d4d" stroke-width="0.55" opacity="0.75"/>
<line x1="539.6" y1="425.9" x2="613.8" y2="405.8" stroke="#707070" stroke-width="0.55" opacity="0.75"/>
<line x1="543.1" y1="424.2" x2="608.1" y2="407.1" stroke="#383838" stroke-width="0.55" opacity="0.75"/>
<line x1="544.3" y1="425.9" x2="613.7" y2="405.9" stroke="#383838" stroke-width="0.55" opacity="0.75"/>
<line x1="539.6" y1="426.4" x2="615.1" y2="406.2" stroke="#4d4d4d" stroke-width="0.55" opacity="0.75"/>
<line x1="538.9" y1="427.6" x2="609.1" y2="409.4" stroke="#4d4d4d" stroke-width="0.55" opacity="0.75"/>
<line x1="541.9" y1="426.8" x2="610.2" y2="410.4" stroke="#383838" stroke-width="0.55" opacity="0.75"/>
<line x1="553" y1="396.5" x2="556" y2="396" stroke="#555" stroke-width="1.2" opacity="0.7"/>
<line x1="557.5" y1="395.9" x2="560.5" y2="395.4" stroke="#555" stroke-width="1.2" opacity="0.7"/>
<line x1="562" y1="395.3" x2="565" y2="394.8" stroke="#555" stroke-width="1.2" opacity="0.7"/>
<line x1="566.5" y1="394.7" x2="569.5" y2="394.2" stroke="#555" stroke-width="1.2" opacity="0.7"/>
<line x1="571" y1="394.1" x2="574" y2="393.6" stroke="#555" stroke-width="1.2" opacity="0.7"/>
<line x1="575.5" y1="393.5" x2="578.5" y2="393" stroke="#555" stroke-width="1.2" opacity="0.7"/>
<path d="M585,296 C602,306 613.5,335 613,360 C612.5,388 605.5,409 596.5,421" fill="none" stroke="#1a1a1a" stroke-width="4" opacity="0.5" filter="url(#b2)"/>
</g>
<path d="M471,314.5 L480,318 L486,326 L494,321.5 L504,328 C513,342 520,365 521,386 C521.5,408 515,428 497,437.2 C483,436 470,415 466,380 C463,350 466,325 471,314.5 Z" fill="#0c1114"/>
<path d="M254,388 L262,358 L280,352 L310,350 L333,347.5 L345,348 L370,343 L391,335.5 L400,339 L420,336 L444.5,327 L455,330 L470,326 L482,329 L490,342 L512,352 L520,400 L505,432 L470,420 L452,428 L436,437 L420,445 L396,432 L360,424 L342,423 L326,425 L310,424 L300,402 L270,397 L254,398 Z" fill="url(#g4)" />
<ellipse cx="240" cy="397" rx="30" ry="8.5" transform="rotate(7 240 397)" fill="url(#g6)"/>
<ellipse cx="300" cy="394" rx="52" ry="10" transform="rotate(2 300 394)" fill="url(#g7)"/>
<ellipse cx="352" cy="398" rx="30" ry="9" transform="rotate(-4 352 398)" fill="url(#g8)"/>
<ellipse cx="395" cy="384" rx="40" ry="10" transform="rotate(-8 395 384)" fill="url(#g9)"/>
<path d="M240,360.5 C248,366 254,380 253.5,390 C246,386 240,372 240,360.5 Z" fill="#1d3a44"/>
<path d="M194.1,371.6 L246.1,361.1 L249.9,379.9 L197.9,390.4 A2.9,9.6 -11.4 0 1 194.1,371.6 Z" fill="url(#g10)" />
<ellipse cx="196" cy="381" rx="2.9" ry="9.6" transform="rotate(-11.4 196 381)" fill="#2568b6"/>
<path d="M168.4,379 L198.4,375.6 L199.6,386.8 L169.6,390.2 A1.9,5.6 -6.5 0 1 168.4,379 Z" fill="url(#g11)" />
<ellipse cx="169" cy="384.6" rx="1.9" ry="5.6" transform="rotate(-6.5 169 384.6)" fill="#b9b9b9"/>
<rect x="169" y="379" width="30.2" height="11.2" transform="rotate(-6.5 169 384.6)" fill="url(#strand)" opacity="0.3"/>
<ellipse cx="169" cy="384.6" rx="1.9" ry="5.6" transform="rotate(-6.5 169 384.6)" fill="#b9b9b9" stroke="#e2e2e2" stroke-width="0.6"/>
<path d="M232,371 L257,368.4 L259,389.2 L234,391.4 A3.1,10.2 -5.5 0 1 232,371 Z" fill="url(#g12)" />
<ellipse cx="233" cy="381.2" rx="3.1" ry="10.2" transform="rotate(-5.5 233 381.2)" fill="#dcdcdc"/>
<path d="M204.3,380.6 L235.3,376.7 L236.7,387.9 L205.7,391.8 A1.9,5.6 -7.2 0 1 204.3,380.6 Z" fill="url(#g13)" />
<ellipse cx="205" cy="386.2" rx="1.9" ry="5.6" transform="rotate(-7.2 205 386.2)" fill="#b9b9b9"/>
<rect x="205" y="380.6" width="31.2" height="11.2" transform="rotate(-7.2 205 386.2)" fill="url(#strand)" opacity="0.3"/>
<ellipse cx="205" cy="386.2" rx="1.9" ry="5.6" transform="rotate(-7.2 205 386.2)" fill="#b9b9b9" stroke="#e2e2e2" stroke-width="0.6"/>
<path d="M240,360.5 C262,353 272,349 280,347 C292,344.5 300,344 312,345 C322,345 330,346 336,348 C342,352 340,360 334,366 C328,372 322,375 318,377 C312,381 306,384 300,386 C292,389 270,390 253.5,390 C257,382 250,365 240,360.5 Z" fill="url(#g14)" />
<path d="M240,360.5 C262,353 272,349 280,347 C292,344.5 300,344 312,345 C322,345 330,346 336,348 C342,352 340,360 334,366 C328,372 322,375 318,377 C312,381 306,384 300,386 C292,389 270,390 253.5,390 C257,382 250,365 240,360.5 Z" fill="url(#g16)"/>
<path d="M240,360.5 C262,353 272,349 280,347 C292,344.5 300,344 312,345 C322,345 330,346 336,348 C342,352 340,360 334,366 C328,372 322,375 318,377 C312,381 306,384 300,386 C292,389 270,390 253.5,390 C257,382 250,365 240,360.5 Z" fill="url(#g17)"/>
<g clip-path="url(#c15)"><path d="M252,361 C266,356 280,352 300,350" fill="none" stroke="#d9f3f7" stroke-width="3.5" stroke-linecap="round" opacity="0.75" filter="url(#b1)"/></g>
<g clip-path="url(#c15)"><path d="M286,348 C290,360 291,378 289,388" fill="none" stroke="#2a6b7c" stroke-width="1.6" stroke-linecap="round" opacity="0.55" filter="url(#b1)"/></g>
<g clip-path="url(#c15)"><path d="M262,384 C276,385 292,384 304,380" fill="none" stroke="#1f5968" stroke-width="2.5" stroke-linecap="round" opacity="0.5" filter="url(#b1)"/></g>
<g clip-path="url(#c15)"><path d="M262,362 C280,366 296,374 312,384" fill="none" stroke="#1d6478" stroke-width="8" stroke-linecap="round" opacity="0.5" filter="url(#b2)"/></g>
<g clip-path="url(#c15)"><path d="M292,350 C300,351 306,353 312,357" fill="none" stroke="#ffffff" stroke-width="2.5" stroke-linecap="round" opacity="0.7" filter="url(#b1)"/></g>
<g clip-path="url(#cteal)"><ellipse cx="367.7" cy="353.5" rx="37" ry="17.5" transform="rotate(8 369.7 351.5)" fill="#0f3540" opacity="0.8" filter="url(#b2)"/></g>
<ellipse cx="369.7" cy="351.5" rx="36" ry="16.5" transform="rotate(8 369.7 351.5)" fill="url(#g18)"/>
<g clip-path="url(#c19)"><path d="M339.7,342.5 C355.7,345.5 371.7,352.5 385.7,361.5" fill="none" stroke="#1a5668" stroke-width="3.2" opacity="0.75" filter="url(#b1)"/><path d="M336.7,350.5 C349.7,352.5 361.7,357.5 371.7,364.5" fill="none" stroke="#9adfec" stroke-width="3" opacity="0.6" filter="url(#b1)"/><path d="M365.7,338.5 C377.7,339.5 389.7,343.5 399.7,349.5" fill="none" stroke="#e4f8fb" stroke-width="2.2" opacity="0.7" filter="url(#b1)"/></g>
<g clip-path="url(#cteal)"><ellipse cx="423.7" cy="346.1" rx="37" ry="17.5" transform="rotate(8 425.7 344.1)" fill="#0f3540" opacity="0.8" filter="url(#b2)"/></g>
<ellipse cx="425.7" cy="344.1" rx="36" ry="16.5" transform="rotate(8 425.7 344.1)" fill="url(#g20)"/>
<g clip-path="url(#c21)"><path d="M395.7,335.1 C411.7,338.1 427.7,345.1 441.7,354.1" fill="none" stroke="#1a5668" stroke-width="3.2" opacity="0.75" filter="url(#b1)"/><path d="M392.7,343.1 C405.7,345.1 417.7,350.1 427.7,357.1" fill="none" stroke="#9adfec" stroke-width="3" opacity="0.6" filter="url(#b1)"/><path d="M421.7,331.1 C433.7,332.1 445.7,336.1 455.7,342.1" fill="none" stroke="#e4f8fb" stroke-width="2.2" opacity="0.7" filter="url(#b1)"/></g>
<g clip-path="url(#cteal)"><ellipse cx="467.9" cy="333.3" rx="25" ry="15" transform="rotate(8 469.9 331.3)" fill="#0f3540" opacity="0.8" filter="url(#b2)"/></g>
<ellipse cx="469.9" cy="331.3" rx="24" ry="14" transform="rotate(8 469.9 331.3)" fill="url(#g22)"/>
<g clip-path="url(#c23)"><path d="M439.9,322.3 C455.9,325.3 471.9,332.3 485.9,341.3" fill="none" stroke="#1a5668" stroke-width="3.2" opacity="0.75" filter="url(#b1)"/><path d="M436.9,330.3 C449.9,332.3 461.9,337.3 471.9,344.3" fill="none" stroke="#9adfec" stroke-width="3" opacity="0.6" filter="url(#b1)"/><path d="M465.9,318.3 C477.9,319.3 489.9,323.3 499.9,329.3" fill="none" stroke="#e4f8fb" stroke-width="2.2" opacity="0.7" filter="url(#b1)"/></g>
<path d="M130,410 C139,416 145,430 143.5,440 C135,436 129,422 130,410 Z" fill="#1d3a44"/>
<path d="M84,420.3 L136,409.3 L140,427.9 L88,438.9 A2.9,9.5 -11.9 0 1 84,420.3 Z" fill="url(#g24)" />
<ellipse cx="86" cy="429.6" rx="2.9" ry="9.5" transform="rotate(-11.9 86 429.6)" fill="#2b2b2b"/>
<path d="M57.1,429.9 L89.1,424.8 L90.9,436 L58.9,441.1 A1.9,5.7 -9.1 0 1 57.1,429.9 Z" fill="url(#g25)" />
<ellipse cx="58" cy="435.5" rx="1.9" ry="5.7" transform="rotate(-9.1 58 435.5)" fill="#b9b9b9"/>
<rect x="58" y="429.8" width="32.4" height="11.4" transform="rotate(-9.1 58 435.5)" fill="url(#strand)" opacity="0.3"/>
<ellipse cx="58" cy="435.5" rx="1.9" ry="5.7" transform="rotate(-9.1 58 435.5)" fill="#b9b9b9" stroke="#e2e2e2" stroke-width="0.6"/>
<path d="M120.3,421.1 L146.7,417.7 L149.3,438.7 L122.7,441.7 A3.1,10.4 -6.9 0 1 120.3,421.1 Z" fill="url(#g26)" />
<ellipse cx="121.5" cy="431.4" rx="3.1" ry="10.4" transform="rotate(-6.9 121.5 431.4)" fill="#dcdcdc"/>
<path d="M92.2,430.9 L124.2,426.5 L125.8,437.9 L93.8,442.3 A2,5.8 -7.8 0 1 92.2,430.9 Z" fill="url(#g27)" />
<ellipse cx="93" cy="436.6" rx="2" ry="5.8" transform="rotate(-7.8 93 436.6)" fill="#b9b9b9"/>
<rect x="93" y="430.8" width="32.3" height="11.6" transform="rotate(-7.8 93 436.6)" fill="url(#strand)" opacity="0.3"/>
<ellipse cx="93" cy="436.6" rx="2" ry="5.8" transform="rotate(-7.8 93 436.6)" fill="#b9b9b9" stroke="#e2e2e2" stroke-width="0.6"/>
<path d="M130,410 C150,402 165,398 178,395.5 C190,393 205,393.5 222,398 C232,401 240,404 246,410 L236,436 C215,434 196,432 178,434 C166,436 154,438.5 143.5,440 C147,431 140,415 130,410 Z" fill="url(#g28)" />
<path d="M130,410 C150,402 165,398 178,395.5 C190,393 205,393.5 222,398 C232,401 240,404 246,410 L236,436 C215,434 196,432 178,434 C166,436 154,438.5 143.5,440 C147,431 140,415 130,410 Z" fill="url(#g30)"/>
<path d="M130,410 C150,402 165,398 178,395.5 C190,393 205,393.5 222,398 C232,401 240,404 246,410 L236,436 C215,434 196,432 178,434 C166,436 154,438.5 143.5,440 C147,431 140,415 130,410 Z" fill="url(#g31)"/>
<g clip-path="url(#c29)"><path d="M143,409 C160,403 180,399 204,399" fill="none" stroke="#d9f3f7" stroke-width="3.5" stroke-linecap="round" opacity="0.75" filter="url(#b1)"/></g>
<g clip-path="url(#c29)"><path d="M196,396 C203,404 205,420 200,432" fill="none" stroke="#256677" stroke-width="2" stroke-linecap="round" opacity="0.5" filter="url(#b1)"/></g>
<g clip-path="url(#c29)"><path d="M150,436 C165,433 180,430 200,430" fill="none" stroke="#1f5968" stroke-width="2.5" stroke-linecap="round" opacity="0.45" filter="url(#b1)"/></g>
<g clip-path="url(#c29)"><path d="M146,418 C160,414 172,416 190,426" fill="none" stroke="#1d6478" stroke-width="7" stroke-linecap="round" opacity="0.5" filter="url(#b2)"/></g>
<g clip-path="url(#c29)"><path d="M174,406 C180,405 186,406 192,409" fill="none" stroke="#ffffff" stroke-width="2.5" stroke-linecap="round" opacity="0.8" filter="url(#b1)"/></g>
<g clip-path="url(#c29)"><path d="M204,404 C216,404 228,407 240,412" fill="none" stroke="#a9e6f2" stroke-width="4" stroke-linecap="round" opacity="0.7" filter="url(#b1)"/></g>
<path d="M225,406 C233,414 237,432 235,444 C228,438 224,420 225,406 Z" fill="#1d3a44"/>
<path d="M201,407.3 L230,403.7 L232,421.5 L203,424.7 A2.6,8.8 -6.7 0 1 201,407.3 Z" fill="url(#g32)" />
<ellipse cx="202" cy="416" rx="2.6" ry="8.8" transform="rotate(-6.7 202 416)" fill="#dcdcdc"/>
<path d="M175.2,418.9 L206.2,414.3 L207.8,424.9 L176.8,429.5 A1.8,5.4 -8.4 0 1 175.2,418.9 Z" fill="url(#g33)" />
<ellipse cx="176" cy="424.2" rx="1.8" ry="5.4" transform="rotate(-8.4 176 424.2)" fill="#b9b9b9"/>
<rect x="176" y="418.8" width="31.3" height="10.8" transform="rotate(-8.4 176 424.2)" fill="url(#strand)" opacity="0.3"/>
<ellipse cx="176" cy="424.2" rx="1.8" ry="5.4" transform="rotate(-8.4 176 424.2)" fill="#b9b9b9" stroke="#e2e2e2" stroke-width="0.6"/>
<path d="M182.3,431.9 L238.2,422.3 L241.8,443.3 L185.7,452.5 A3.1,10.4 -9.5 0 1 182.3,431.9 Z" fill="url(#g34)" />
<ellipse cx="184" cy="442.2" rx="3.1" ry="10.4" transform="rotate(-9.5 184 442.2)" fill="#31952e"/>
<path d="M155.1,442 L186.1,437 L187.9,448.2 L156.9,453.2 A1.9,5.7 -9.2 0 1 155.1,442 Z" fill="url(#g35)" />
<ellipse cx="156" cy="447.6" rx="1.9" ry="5.7" transform="rotate(-9.2 156 447.6)" fill="#b9b9b9"/>
<rect x="156" y="441.9" width="31.4" height="11.4" transform="rotate(-9.2 156 447.6)" fill="url(#strand)" opacity="0.3"/>
<ellipse cx="156" cy="447.6" rx="1.9" ry="5.7" transform="rotate(-9.2 156 447.6)" fill="#b9b9b9" stroke="#e2e2e2" stroke-width="0.6"/>
<path d="M225,406 C245,401 258,398.5 272,397 C284,396 296,397 306,402 C316,407 324,410 332,411 L342,422 C334,423 326,425 318,424 C306,424 296,428 286,432 C278,436 268,440 258,442 C250,443.5 242,444 235,444 C238,432 233,414 225,406 Z" fill="url(#g36)" />
<path d="M225,406 C245,401 258,398.5 272,397 C284,396 296,397 306,402 C316,407 324,410 332,411 L342,422 C334,423 326,425 318,424 C306,424 296,428 286,432 C278,436 268,440 258,442 C250,443.5 242,444 235,444 C238,432 233,414 225,406 Z" fill="url(#g38)"/>
<path d="M225,406 C245,401 258,398.5 272,397 C284,396 296,397 306,402 C316,407 324,410 332,411 L342,422 C334,423 326,425 318,424 C306,424 296,428 286,432 C278,436 268,440 258,442 C250,443.5 242,444 235,444 C238,432 233,414 225,406 Z" fill="url(#g39)"/>
<g clip-path="url(#c37)"><path d="M238,407 C256,402 276,400 298,402" fill="none" stroke="#d9f3f7" stroke-width="4" stroke-linecap="round" opacity="0.8" filter="url(#b1)"/></g>
<g clip-path="url(#c37)"><path d="M272,398 C280,408 282,424 276,436" fill="none" stroke="#256677" stroke-width="2" stroke-linecap="round" opacity="0.5" filter="url(#b1)"/></g>
<g clip-path="url(#c37)"><path d="M246,440 C262,438 278,432 296,425" fill="none" stroke="#1f5968" stroke-width="2.5" stroke-linecap="round" opacity="0.45" filter="url(#b1)"/></g>
<g clip-path="url(#c37)"><path d="M252,414 C270,414 286,418 310,414" fill="none" stroke="#1d6478" stroke-width="8" stroke-linecap="round" opacity="0.5" filter="url(#b2)"/></g>
<g clip-path="url(#c37)"><path d="M246,430 C258,430 268,428 280,422" fill="none" stroke="#bfe8f0" stroke-width="4" stroke-linecap="round" opacity="0.6" filter="url(#b1)"/></g>
<path d="M341.2,371.4 L468.2,349.2 L471.8,370 L344.8,392.2 A3.2,10.6 -9.9 0 1 341.2,371.4 Z" fill="url(#g40)" />
<ellipse cx="343" cy="381.8" rx="3.2" ry="10.6" transform="rotate(-9.9 343 381.8)" fill="#bbb02d"/>
<path d="M312.3,380.8 L345.3,376.6 L346.7,388.2 L313.7,392.4 A2,5.8 -7.3 0 1 312.3,380.8 Z" fill="url(#g41)" />
<ellipse cx="313" cy="386.6" rx="2" ry="5.8" transform="rotate(-7.3 313 386.6)" fill="#b9b9b9"/>
<rect x="313" y="380.8" width="33.3" height="11.6" transform="rotate(-7.3 313 386.6)" fill="url(#strand)" opacity="0.3"/>
<ellipse cx="313" cy="386.6" rx="2" ry="5.8" transform="rotate(-7.3 313 386.6)" fill="#b9b9b9" stroke="#e2e2e2" stroke-width="0.6"/>
<path d="M342.4,401.4 L396.4,393.1 L399.6,414.1 L345.6,422.2 A3.1,10.5 -8.6 0 1 342.4,401.4 Z" fill="url(#g42)" />
<ellipse cx="344" cy="411.8" rx="3.1" ry="10.5" transform="rotate(-8.6 344 411.8)" fill="#bf7d23"/>
<path d="M304.2,413.5 L347.2,407.5 L348.8,418.9 L305.8,424.9 A2,5.8 -7.9 0 1 304.2,413.5 Z" fill="url(#g43)" />
<ellipse cx="305" cy="419.2" rx="2" ry="5.8" transform="rotate(-7.9 305 419.2)" fill="#b9b9b9"/>
<rect x="305" y="413.4" width="43.4" height="11.6" transform="rotate(-7.9 305 419.2)" fill="url(#strand)" opacity="0.3"/>
<ellipse cx="305" cy="419.2" rx="2" ry="5.8" transform="rotate(-7.9 305 419.2)" fill="#b9b9b9" stroke="#e2e2e2" stroke-width="0.6"/>
<path d="M392,393 C400,400 404,418 402,431 C395,426 391,408 392,393 Z" fill="#1d3a44"/>
<path d="M379.3,410.6 L405.3,408.6 L406.7,430.2 L380.7,431.8 A3.2,10.6 -4 0 1 379.3,410.6 Z" fill="url(#g44)" />
<ellipse cx="380" cy="421.2" rx="3.2" ry="10.6" transform="rotate(-4 380 421.2)" fill="#dcdcdc"/>
<path d="M352.3,419.2 L382.3,415.6 L383.7,427.6 L353.7,431.2 A2,6 -6.8 0 1 352.3,419.2 Z" fill="url(#g45)" />
<ellipse cx="353" cy="425.2" rx="2" ry="6" transform="rotate(-6.8 353 425.2)" fill="#b9b9b9"/>
<rect x="353" y="419.2" width="30.2" height="12" transform="rotate(-6.8 353 425.2)" fill="url(#strand)" opacity="0.3"/>
<ellipse cx="353" cy="425.2" rx="2" ry="6" transform="rotate(-6.8 353 425.2)" fill="#b9b9b9" stroke="#e2e2e2" stroke-width="0.6"/>
<g clip-path="url(#cteal)"><ellipse cx="492" cy="391" rx="31" ry="15" transform="rotate(-6 494 389)" fill="#0f3540" opacity="0.8" filter="url(#b2)"/></g>
<ellipse cx="494" cy="389" rx="30" ry="14" transform="rotate(-6 494 389)" fill="url(#g46)"/>
<g clip-path="url(#c47)"><path d="M464,380 C480,383 496,390 510,399" fill="none" stroke="#1a5668" stroke-width="3.2" opacity="0.75" filter="url(#b1)"/><path d="M461,388 C474,390 486,395 496,402" fill="none" stroke="#9adfec" stroke-width="3" opacity="0.6" filter="url(#b1)"/><path d="M490,376 C502,377 514,381 524,387" fill="none" stroke="#e4f8fb" stroke-width="2.2" opacity="0.7" filter="url(#b1)"/></g>
<g clip-path="url(#cteal)"><ellipse cx="456" cy="407" rx="39" ry="17" transform="rotate(6 458 405)" fill="#0f3540" opacity="0.8" filter="url(#b2)"/></g>
<ellipse cx="458" cy="405" rx="38" ry="16" transform="rotate(6 458 405)" fill="url(#g48)"/>
<g clip-path="url(#c49)"><path d="M428,396 C444,399 460,406 474,415" fill="none" stroke="#1a5668" stroke-width="3.2" opacity="0.75" filter="url(#b1)"/><path d="M425,404 C438,406 450,411 460,418" fill="none" stroke="#9adfec" stroke-width="3" opacity="0.6" filter="url(#b1)"/><path d="M454,392 C466,393 478,397 488,403" fill="none" stroke="#e4f8fb" stroke-width="2.2" opacity="0.7" filter="url(#b1)"/></g>
<path d="M392,393 C404,391 416,389.5 428,388 C432,387.5 435,387 438,386.5 C442,398 443,418 441,433 C430,434.5 418,432 402,431 C405,418 400,400 392,393 Z" fill="url(#g50)" />
<path d="M392,393 C404,391 416,389.5 428,388 C432,387.5 435,387 438,386.5 C442,398 443,418 441,433 C430,434.5 418,432 402,431 C405,418 400,400 392,393 Z" fill="url(#g52)"/>
<path d="M392,393 C404,391 416,389.5 428,388 C432,387.5 435,387 438,386.5 C442,398 443,418 441,433 C430,434.5 418,432 402,431 C405,418 400,400 392,393 Z" fill="url(#g53)"/>
<g clip-path="url(#c51)"><path d="M402,395 C412,393.5 424,392 436,391" fill="none" stroke="#d9f3f7" stroke-width="3.5" stroke-linecap="round" opacity="0.8" filter="url(#b1)"/></g>
<g clip-path="url(#c51)"><path d="M439,388 C443,398 444,418 442,432" fill="none" stroke="#1d5a6b" stroke-width="2.5" stroke-linecap="round" opacity="0.7" filter="url(#b1)"/></g>
<g clip-path="url(#c51)"><path d="M408,410 C418,407 428,409 440,404" fill="none" stroke="#1d6478" stroke-width="8" stroke-linecap="round" opacity="0.5" filter="url(#b2)"/></g>
<path d="M299,437 C307,443 312,457 310,467 C303,462 298,448 299,437 Z" fill="#1d3a44"/>
<path d="M250.1,448.4 L303.1,437.4 L306.9,455.8 L253.9,466.8 A2.8,9.4 -11.7 0 1 250.1,448.4 Z" fill="url(#g54)" />
<ellipse cx="252" cy="457.6" rx="2.8" ry="9.4" transform="rotate(-11.7 252 457.6)" fill="#981e22"/>
<path d="M226.3,456.9 L254.3,453.3 L255.7,464.7 L227.7,468.3 A1.9,5.7 -7.3 0 1 226.3,456.9 Z" fill="url(#g55)" />
<ellipse cx="227" cy="462.6" rx="1.9" ry="5.7" transform="rotate(-7.3 227 462.6)" fill="#b9b9b9"/>
<rect x="227" y="456.9" width="28.2" height="11.4" transform="rotate(-7.3 227 462.6)" fill="url(#strand)" opacity="0.3"/>
<ellipse cx="227" cy="462.6" rx="1.9" ry="5.7" transform="rotate(-7.3 227 462.6)" fill="#b9b9b9" stroke="#e2e2e2" stroke-width="0.6"/>
<path d="M286.9,447.9 L313.9,444.9 L316.1,466.7 L289.1,469.3 A3.2,10.8 -5.9 0 1 286.9,447.9 Z" fill="url(#g56)" />
<ellipse cx="288" cy="458.6" rx="3.2" ry="10.8" transform="rotate(-5.9 288 458.6)" fill="#dcdcdc"/>
<path d="M262.3,457.4 L290.3,454.2 L291.7,465.8 L263.7,469 A2,5.8 -6.5 0 1 262.3,457.4 Z" fill="url(#g57)" />
<ellipse cx="263" cy="463.2" rx="2" ry="5.8" transform="rotate(-6.5 263 463.2)" fill="#b9b9b9"/>
<rect x="263" y="457.4" width="28.2" height="11.6" transform="rotate(-6.5 263 463.2)" fill="url(#strand)" opacity="0.3"/>
<ellipse cx="263" cy="463.2" rx="2" ry="5.8" transform="rotate(-6.5 263 463.2)" fill="#b9b9b9" stroke="#e2e2e2" stroke-width="0.6"/>
<path d="M299,437 C308,433 316,431 324,429 C336,426 348,424 360,423 C372,423 384,426 396,430 L420,444 C410,445 400,446 392,447.5 C382,452 374,457 364,460.5 C356,463.5 348,466 340,466.5 C330,467.5 320,467.5 310,467 C313,457 307,443 299,437 Z" fill="url(#g58)" />
<path d="M299,437 C308,433 316,431 324,429 C336,426 348,424 360,423 C372,423 384,426 396,430 L420,444 C410,445 400,446 392,447.5 C382,452 374,457 364,460.5 C356,463.5 348,466 340,466.5 C330,467.5 320,467.5 310,467 C313,457 307,443 299,437 Z" fill="url(#g60)"/>
<path d="M299,437 C308,433 316,431 324,429 C336,426 348,424 360,423 C372,423 384,426 396,430 L420,444 C410,445 400,446 392,447.5 C382,452 374,457 364,460.5 C356,463.5 348,466 340,466.5 C330,467.5 320,467.5 310,467 C313,457 307,443 299,437 Z" fill="url(#g61)"/>
<g clip-path="url(#c59)"><path d="M302,438 C318,433 336,428 360,426" fill="none" stroke="#1b566a" stroke-width="11" stroke-linecap="round" opacity="0.8" filter="url(#b2)"/></g>
<g clip-path="url(#c59)"><path d="M312,450 C330,446 350,444 372,443" fill="none" stroke="#c9eef5" stroke-width="4" stroke-linecap="round" opacity="0.8" filter="url(#b1)"/></g>
<g clip-path="url(#c59)"><path d="M346,425 C352,434 352,452 346,464" fill="none" stroke="#256677" stroke-width="2" stroke-linecap="round" opacity="0.5" filter="url(#b1)"/></g>
<g clip-path="url(#c59)"><path d="M318,464 C336,464 356,460 378,450" fill="none" stroke="#1f5968" stroke-width="2.5" stroke-linecap="round" opacity="0.45" filter="url(#b1)"/></g>
<g clip-path="url(#c59)"><path d="M322,442 C340,440 360,444 384,440" fill="none" stroke="#1d6478" stroke-width="8" stroke-linecap="round" opacity="0.5" filter="url(#b2)"/></g>
<g clip-path="url(#c59)"><path d="M352,432 C364,431 376,432 390,436" fill="none" stroke="#a9e6f2" stroke-width="3.5" stroke-linecap="round" opacity="0.7" filter="url(#b1)"/></g>
<ellipse cx="452" cy="436" rx="17" ry="5.5" transform="rotate(-4 452 436)" fill="url(#g62)"/>
<path d="M470.5,416.9 L522.5,407.7 L525.5,425.1 L473.5,434.3 A2.6,8.8 -10 0 1 470.5,416.9 Z" fill="url(#g63)" />
<ellipse cx="472" cy="425.6" rx="2.6" ry="8.8" transform="rotate(-10 472 425.6)" fill="#61318f"/>
<path d="M439.3,423.5 L475.3,419.7 L476.7,432.3 L440.7,436.1 A2.1,6.3 -6 0 1 439.3,423.5 Z" fill="url(#g64)" />
<ellipse cx="440" cy="429.8" rx="2.1" ry="6.3" transform="rotate(-6 440 429.8)" fill="#b9b9b9"/>
<rect x="440" y="423.5" width="36.2" height="12.6" transform="rotate(-6 440 429.8)" fill="url(#strand)" opacity="0.3"/>
<ellipse cx="440" cy="429.8" rx="2.1" ry="6.3" transform="rotate(-6 440 429.8)" fill="#b9b9b9" stroke="#e2e2e2" stroke-width="0.6"/>
<path d="M451.7,337.1 L512.5,326.5 L515.5,346.7 L454.3,354.5 A2.6,8.8 -8.6 0 1 451.7,337.1 Z" fill="url(#g65)" />
<ellipse cx="453" cy="345.8" rx="2.6" ry="8.8" transform="rotate(-8.6 453 345.8)" fill="#dcdcdc"/>
<path d="M422,342.5 L456,336.9 L458,348.7 L424,354.3 A2,6 -9.4 0 1 422,342.5 Z" fill="url(#g66)" />
<ellipse cx="423" cy="348.4" rx="2" ry="6" transform="rotate(-9.4 423 348.4)" fill="#b9b9b9"/>
<rect x="423" y="342.4" width="34.5" height="12" transform="rotate(-9.4 423 348.4)" fill="url(#strand)" opacity="0.3"/>
<ellipse cx="423" cy="348.4" rx="2" ry="6" transform="rotate(-9.4 423 348.4)" fill="#b9b9b9" stroke="#e2e2e2" stroke-width="0.6"/>
<path d="M415.8,364.3 L519.4,347.7 L522.6,373.5 L418.2,383.3 A2.9,9.6 -7.2 0 1 415.8,364.3 Z" fill="url(#g67)" />
<ellipse cx="417" cy="373.8" rx="2.9" ry="9.6" transform="rotate(-7.2 417 373.8)" fill="#bb383a"/>
<path d="M382,370.9 L419,365.1 L421,378.1 L384,383.9 A2.2,6.6 -8.9 0 1 382,370.9 Z" fill="url(#g68)" />
<ellipse cx="383" cy="377.4" rx="2.2" ry="6.6" transform="rotate(-8.9 383 377.4)" fill="#b9b9b9"/>
<rect x="383" y="370.8" width="37.5" height="13.2" transform="rotate(-8.9 383 377.4)" fill="url(#strand)" opacity="0.3"/>
<ellipse cx="383" cy="377.4" rx="2.2" ry="6.6" transform="rotate(-8.9 383 377.4)" fill="#b9b9b9" stroke="#e2e2e2" stroke-width="0.6"/>
<g clip-path="url(#copen)"><path d="M504,328 C513,342 520,365 521,386 C521.5,408 515,428 497,437.2" fill="none" stroke="#05080a" stroke-width="9" opacity="0.6" filter="url(#b2)"/></g>
<path d="M471,314.5 L480,318 L486,326 L494,321.5 L504,328 C513,342 520,365 521,386 C521.5,408 515,428 497,437.2 L541,429.6 C553,410 554,340 536,302.5 Z" fill="url(#g69)"/>
<path d="M536,302.5 C554,340 553,410 541,429.6" fill="none" stroke="#777" stroke-width="1.2" opacity="0.7" filter="url(#b1)"/>
<line x1="600" y1="303.9" x2="526" y2="315" stroke="#b0b0b0" stroke-width="0.5" opacity="0.77" clip-path="url(#cfray)"/>
<line x1="600" y1="308.8" x2="548.7" y2="316.1" stroke="#9d9d9d" stroke-width="0.5" opacity="0.47" clip-path="url(#cfray)"/>
<line x1="600" y1="311" x2="532.6" y2="320.4" stroke="#6f6f6f" stroke-width="0.5" opacity="0.81" clip-path="url(#cfray)"/>
<line x1="600" y1="306.1" x2="521.4" y2="317.7" stroke="#6f6f6f" stroke-width="0.5" opacity="0.75" clip-path="url(#cfray)"/>
<line x1="600" y1="316.7" x2="527.2" y2="327.1" stroke="#6f6f6f" stroke-width="0.5" opacity="0.72" clip-path="url(#cfray)"/>
<line x1="600" y1="295.2" x2="535.9" y2="306" stroke="#b0b0b0" stroke-width="0.5" opacity="0.63" clip-path="url(#cfray)"/>
<line x1="600" y1="300.9" x2="541.3" y2="309.3" stroke="#9d9d9d" stroke-width="0.5" opacity="0.52" clip-path="url(#cfray)"/>
<line x1="600" y1="306.1" x2="526.8" y2="318.3" stroke="#9d9d9d" stroke-width="0.5" opacity="0.75" clip-path="url(#cfray)"/>
<line x1="600" y1="302.9" x2="529.4" y2="313" stroke="#b0b0b0" stroke-width="0.5" opacity="0.75" clip-path="url(#cfray)"/>
<line x1="600" y1="304.7" x2="535.7" y2="313.9" stroke="#9d9d9d" stroke-width="0.5" opacity="0.81" clip-path="url(#cfray)"/>
<line x1="600" y1="302.1" x2="537.6" y2="312.4" stroke="#6f6f6f" stroke-width="0.5" opacity="0.80" clip-path="url(#cfray)"/>
<line x1="600" y1="293.9" x2="513.3" y2="307.1" stroke="#b0b0b0" stroke-width="0.5" opacity="0.65" clip-path="url(#cfray)"/>
<line x1="600" y1="295.4" x2="545.9" y2="303.6" stroke="#b0b0b0" stroke-width="0.5" opacity="0.55" clip-path="url(#cfray)"/>
<line x1="600" y1="295.7" x2="518.2" y2="308.7" stroke="#8a8a8a" stroke-width="0.5" opacity="0.74" clip-path="url(#cfray)"/>
<line x1="600" y1="308.5" x2="543.4" y2="316.1" stroke="#8a8a8a" stroke-width="0.5" opacity="0.50" clip-path="url(#cfray)"/>
<line x1="600" y1="307" x2="516.8" y2="319" stroke="#9d9d9d" stroke-width="0.5" opacity="0.66" clip-path="url(#cfray)"/>
<line x1="600" y1="302.9" x2="542.1" y2="312.5" stroke="#6f6f6f" stroke-width="0.5" opacity="0.68" clip-path="url(#cfray)"/>
<line x1="600" y1="302.5" x2="522.4" y2="313.9" stroke="#8a8a8a" stroke-width="0.5" opacity="0.85" clip-path="url(#cfray)"/>
<line x1="600" y1="300.2" x2="525.1" y2="310.4" stroke="#9d9d9d" stroke-width="0.5" opacity="0.54" clip-path="url(#cfray)"/>
<line x1="600" y1="299.3" x2="548.1" y2="305.7" stroke="#6f6f6f" stroke-width="0.5" opacity="0.53" clip-path="url(#cfray)"/>
<line x1="600" y1="313.6" x2="540.6" y2="323.8" stroke="#9d9d9d" stroke-width="0.5" opacity="0.82" clip-path="url(#cfray)"/>
<line x1="600" y1="298.2" x2="514.6" y2="311.3" stroke="#b0b0b0" stroke-width="0.5" opacity="0.61" clip-path="url(#cfray)"/>
<line x1="600" y1="293.7" x2="522.6" y2="303.7" stroke="#8a8a8a" stroke-width="0.5" opacity="0.84" clip-path="url(#cfray)"/>
<line x1="600" y1="300.1" x2="543.4" y2="308.7" stroke="#9d9d9d" stroke-width="0.5" opacity="0.81" clip-path="url(#cfray)"/>
<line x1="600" y1="295.8" x2="535.1" y2="305.2" stroke="#9d9d9d" stroke-width="0.5" opacity="0.81" clip-path="url(#cfray)"/>
<line x1="600" y1="295" x2="533.8" y2="303.3" stroke="#8a8a8a" stroke-width="0.5" opacity="0.84" clip-path="url(#cfray)"/>
<line x1="600" y1="295.7" x2="514.7" y2="309.9" stroke="#b0b0b0" stroke-width="0.5" opacity="0.73" clip-path="url(#cfray)"/>
<line x1="600" y1="299.9" x2="518" y2="313.2" stroke="#9d9d9d" stroke-width="0.5" opacity="0.52" clip-path="url(#cfray)"/>
<line x1="600" y1="314.7" x2="544.5" y2="324.8" stroke="#b0b0b0" stroke-width="0.5" opacity="0.84" clip-path="url(#cfray)"/>
<line x1="600" y1="302.9" x2="518.6" y2="316.2" stroke="#8a8a8a" stroke-width="0.5" opacity="0.83" clip-path="url(#cfray)"/>
<line x1="600" y1="295.5" x2="547.5" y2="304.5" stroke="#6f6f6f" stroke-width="0.5" opacity="0.57" clip-path="url(#cfray)"/>
<line x1="600" y1="312.6" x2="520" y2="323.7" stroke="#9d9d9d" stroke-width="0.5" opacity="0.82" clip-path="url(#cfray)"/>
<line x1="600" y1="298.3" x2="526.3" y2="308.4" stroke="#8a8a8a" stroke-width="0.5" opacity="0.55" clip-path="url(#cfray)"/>
<line x1="600" y1="307.8" x2="530.3" y2="317.7" stroke="#b0b0b0" stroke-width="0.5" opacity="0.82" clip-path="url(#cfray)"/>
<line x1="600" y1="299.8" x2="540.4" y2="307.5" stroke="#6f6f6f" stroke-width="0.5" opacity="0.58" clip-path="url(#cfray)"/>
<line x1="600" y1="316.3" x2="519.3" y2="328.4" stroke="#6f6f6f" stroke-width="0.5" opacity="0.57" clip-path="url(#cfray)"/>
<line x1="600" y1="310.8" x2="537.8" y2="318.4" stroke="#8a8a8a" stroke-width="0.5" opacity="0.54" clip-path="url(#cfray)"/>
<line x1="600" y1="305.1" x2="549.3" y2="312.4" stroke="#b0b0b0" stroke-width="0.5" opacity="0.82" clip-path="url(#cfray)"/>
<line x1="600" y1="312.5" x2="521.7" y2="324.9" stroke="#8a8a8a" stroke-width="0.5" opacity="0.75" clip-path="url(#cfray)"/>
<line x1="600" y1="312.9" x2="544.8" y2="321.7" stroke="#6f6f6f" stroke-width="0.5" opacity="0.63" clip-path="url(#cfray)"/>
<line x1="600" y1="311.8" x2="538.1" y2="321.6" stroke="#b0b0b0" stroke-width="0.5" opacity="0.55" clip-path="url(#cfray)"/>
<line x1="600" y1="294.6" x2="513.6" y2="306.7" stroke="#6f6f6f" stroke-width="0.5" opacity="0.62" clip-path="url(#cfray)"/>
<line x1="600" y1="295.7" x2="515.2" y2="307.2" stroke="#9d9d9d" stroke-width="0.5" opacity="0.65" clip-path="url(#cfray)"/>
<line x1="600" y1="309.6" x2="532.3" y2="320.4" stroke="#b0b0b0" stroke-width="0.5" opacity="0.81" clip-path="url(#cfray)"/>
<line x1="600" y1="299.1" x2="532.8" y2="309" stroke="#8a8a8a" stroke-width="0.5" opacity="0.57" clip-path="url(#cfray)"/>
<line x1="600" y1="299.3" x2="523.3" y2="311" stroke="#6f6f6f" stroke-width="0.5" opacity="0.55" clip-path="url(#cfray)"/>
<g mask="url(#dmask)" opacity="0.9">
<path d="M499.8,310.9 L559.3,301.1 L560.7,310.1 L501.2,319.9 A1.6,4.6 -9.4 0 1 499.8,310.9 Z" fill="url(#g70)" />
<ellipse cx="500.5" cy="315.4" rx="1.6" ry="4.6" transform="rotate(-9.4 500.5 315.4)" fill="#b9b9b9"/>
<rect x="500.5" y="310.8" width="60.3" height="9.2" transform="rotate(-9.4 500.5 315.4)" fill="url(#strand)" opacity="0.3"/>
<ellipse cx="500.5" cy="315.4" rx="1.6" ry="4.6" transform="rotate(-9.4 500.5 315.4)" fill="#b9b9b9" stroke="#e2e2e2" stroke-width="0.6"/>
</g>
</g>
<path d="M317.6,447 L317.6,642" fill="none" stroke="#55aba1" stroke-width="1.1" stroke-dasharray="2.5 1.8" opacity="0.85"/>
<path d="M520,316 L520,542.8 L489.2,542.8 L489.2,642" fill="none" stroke="#55aba1" stroke-width="1.1" stroke-dasharray="2.5 1.8" opacity="0.85"/>
<path d="M585.4,408 L585.4,642" fill="none" stroke="#55aba1" stroke-width="1.1" stroke-dasharray="2.5 1.8" opacity="0.85"/>
<circle cx="317.6" cy="445" r="7" fill="#2fc79a" opacity="0.5" filter="url(#b2)"/>
<circle cx="317.6" cy="445" r="4.6" fill="#1fbf8f" filter="url(#b1)"/>
<circle cx="317.6" cy="445" r="3.4" fill="#19b887" filter="url(#soft)"/>
<circle cx="520.4" cy="313" r="7" fill="#2fc79a" opacity="0.5" filter="url(#b2)"/>
<circle cx="520.4" cy="313" r="4.6" fill="#1fbf8f" filter="url(#b1)"/>
<circle cx="520.4" cy="313" r="3.4" fill="#19b887" filter="url(#soft)"/>
<circle cx="585.4" cy="405" r="7" fill="#2fc79a" opacity="0.5" filter="url(#b2)"/>
<circle cx="585.4" cy="405" r="4.6" fill="#1fbf8f" filter="url(#b1)"/>
<circle cx="585.4" cy="405" r="3.4" fill="#19b887" filter="url(#soft)"/>
<circle cx="317.8" cy="645.4" r="3.1" fill="#fff" stroke="#35b9a3" stroke-width="1.3"/>
<circle cx="489.4" cy="645.2" r="3.1" fill="#fff" stroke="#35b9a3" stroke-width="1.3"/>
<circle cx="585.4" cy="645.2" r="3.1" fill="#fff" stroke="#35b9a3" stroke-width="1.3"/>
</svg>
<div class="tx t" style="left:32.3px;top:72.8px;font-size:27.4px;transform:scaleX(0.9206)">MULTIPLE</div>
<div class="tx t" style="left:164.7px;top:72.8px;font-size:27.4px;transform:scaleX(0.8710)">SHIELDING</div>
<div class="tx t" style="left:303.6px;top:72.8px;font-size:27.4px;transform:scaleX(0.8629)">TO</div>
<div class="tx t" style="left:346.0px;top:72.8px;font-size:27.4px;transform:scaleX(0.8217)">ENSURE</div>
<div class="tx t" style="left:449.6px;top:72.8px;font-size:27.4px;transform:scaleX(0.8542)">SIGNAL</div>
<div class="tx t" style="left:32.2px;top:106.5px;font-size:27.4px;transform:scaleX(0.9123)">TRANSMISSION</div>
<div class="tx b" style="left:32.8px;top:153.2px;font-size:17.5px;letter-spacing:0.965px">Drain wire, aluminum foil mylar and braid triple</div>
<div class="tx b" style="left:32.8px;top:177.4px;font-size:17.5px;letter-spacing:0.708px">shield can avoid the signal loss and</div>
<div class="tx b" style="left:32.8px;top:201.7px;font-size:17.5px;letter-spacing:0.839px">ensure steady transmission</div>
<div class="tx l" style="left:326.0px;top:626.0px;font-size:18px;letter-spacing:1.196px">Aluminum</div>
<div class="tx l" style="left:326.4px;top:647.0px;font-size:18px;letter-spacing:0.687px">Foil Mylar</div>
<div class="tx l" style="left:495.6px;top:626.3px;font-size:18px;letter-spacing:0.696px">Drain</div>
<div class="tx l" style="left:496.0px;top:647.2px;font-size:18px;letter-spacing:1.567px">Wire</div>
<div class="tx l" style="left:590.4px;top:626.3px;font-size:18px;letter-spacing:0.242px">Braid</div>
</div>
</body></html>
